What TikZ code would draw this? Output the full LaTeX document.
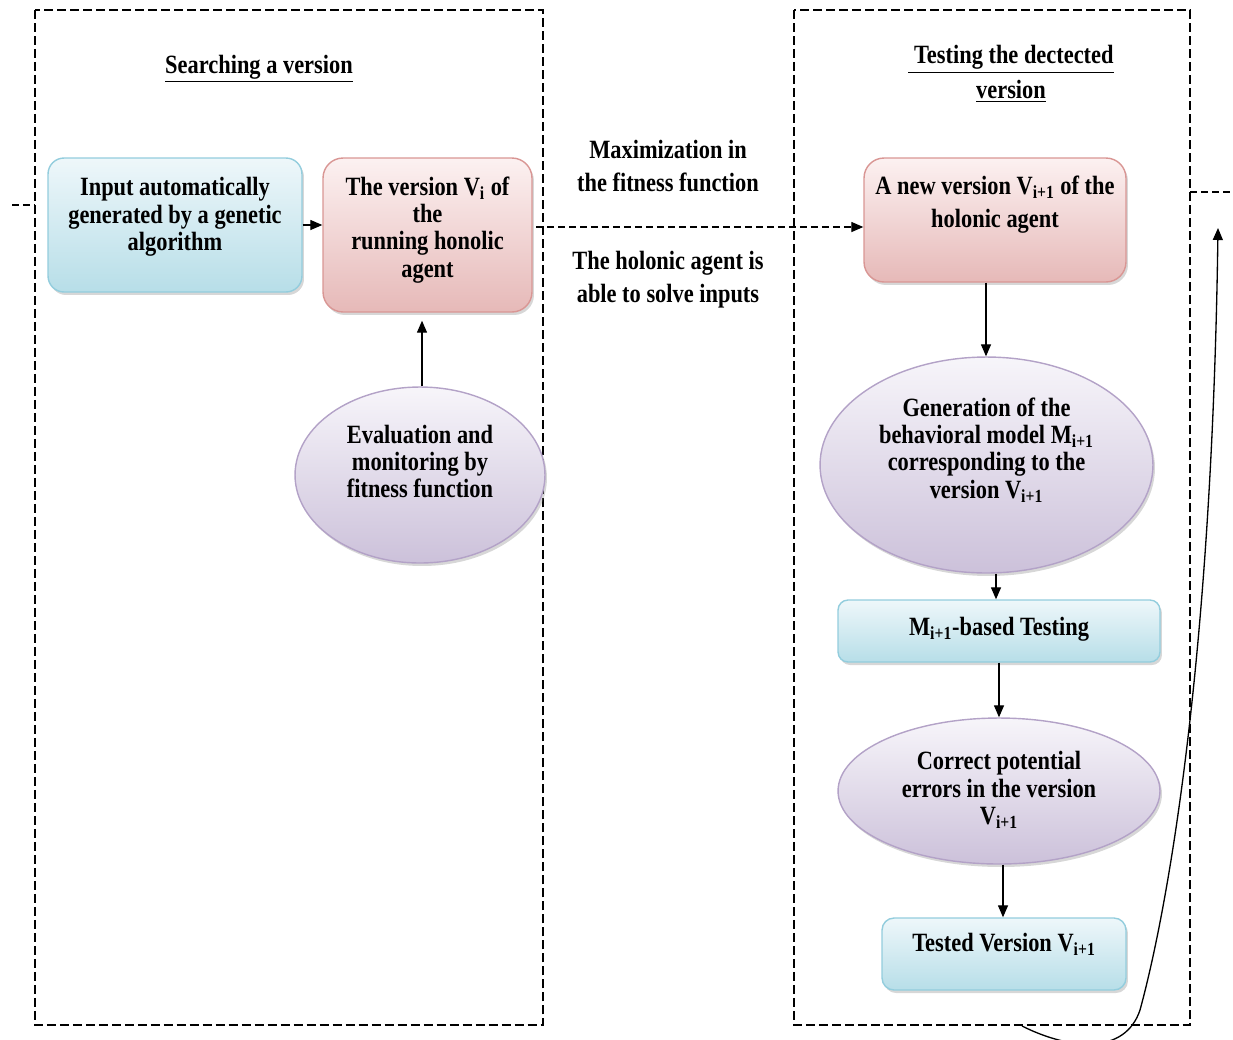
\documentclass[tikz,border=0pt]{standalone}
\usepackage{fontspec}
\setmainfont{Liberation Serif}[FakeStretch=0.85]
\usetikzlibrary{arrows.meta,shapes.geometric,shadows}
\definecolor{bluetop}{HTML}{EEF7FA}
\definecolor{bluebot}{HTML}{B7DEE8}
\definecolor{blueline}{HTML}{93CDDD}
\definecolor{pinktop}{HTML}{FCF1F1}
\definecolor{pinkbot}{HTML}{E6B9B8}
\definecolor{pinkline}{HTML}{D99694}
\definecolor{lavtop}{HTML}{F7F5FA}
\definecolor{lavbot}{HTML}{CCC1DA}
\definecolor{lavline}{HTML}{B3A2C7}
\tikzset{
  txt/.style={font=\fontsize{15}{15.5}\selectfont\bfseries, align=center, inner sep=0pt},
  shd/.style={drop shadow={shadow xshift=0.04cm, shadow yshift=-0.06cm, opacity=0.35, fill=black!45}},
  bluebox/.style={txt, rectangle, rounded corners=0.32cm, top color=bluetop, bottom color=bluebot, draw=blueline, line width=0.8pt, shd},
  pinkbox/.style={txt, rectangle, rounded corners=0.4cm, top color=pinktop, bottom color=pinkbot, draw=pinkline, line width=0.8pt, shd},
  lavell/.style={txt, ellipse, top color=lavtop, bottom color=lavbot, draw=lavline, line width=0.8pt, shd},
  frame/.style={draw, line width=0.75pt, dash pattern=on 0.18cm off 0.08cm},
  dline/.style={line width=0.75pt, dash pattern=on 0.14cm off 0.08cm},
  arr/.style={-{Triangle[length=0.24cm,width=0.2cm]}, line width=0.75pt},
  lbl/.style={txt},
}
\begin{document}
\begin{tikzpicture}[x=0.02cm, y=-0.02cm]
\useasboundingbox (0,0) rectangle (1233,1039);
% frames
\draw[frame] (35,10) rectangle (543,1025);
\draw[frame] (794,10) rectangle (1190,1025);
\coordinate (lstubA) at (12,205);
\coordinate (lstubB) at (35,205);
\coordinate (rstubA) at (1190,192);
\coordinate (rstubB) at (1233,192);
\draw[dline] (lstubA) -- (lstubB);
\draw[dline] (rstubA) -- (rstubB);
% titles
\node[txt] (t1) at (259,69) {\underline{Searching a version}};
\node[txt] (t2) at (1011,74) {\underline{\ Testing the dectected}\\[0.12cm]\underline{version}};
% left column
\node[bluebox, minimum width=5.08cm, minimum height=2.68cm] (b1) at (175,225)
  {Input automatically\\generated by a genetic\\algorithm\\[-0.1cm]};
\node[pinkbox, minimum width=4.18cm, minimum height=3.08cm] (b2) at (427.5,235)
  {The version V\textsubscript{i} of\\the\\running honolic\\agent\\[-0.22cm]};
\node[lavell, minimum width=5.0cm, minimum height=3.52cm] (e1) at (420,475)
  {Evaluation and\\monitoring by\\fitness function\\};
% middle labels
\node[lbl] (m1) at (668,166) {Maximization in\\[0.12cm]the fitness function};
\node[lbl] (m2) at (668,280) {The holonic agent is\\[0.12cm]able to solve inputs};
% right column
\node[pinkbox, minimum width=5.24cm, minimum height=2.48cm] (b3) at (995,220)
  {A new version V\textsubscript{i+1} of the\\[0.12cm]holonic agent\\[0.2cm]};
\node[lavell, minimum width=6.66cm, minimum height=4.32cm] (e2) at (986.5,465)
  {Generation of the\\behavioral model M\textsubscript{i+1}\\corresponding to the\\version V\textsubscript{i+1}\\[0.14cm]};
\node[bluebox, rounded corners=0.2cm, minimum width=6.44cm, minimum height=1.24cm] (b4) at (999,631)
  {M\textsubscript{i+1}-based Testing\\[-0.34cm]};
\node[lavell, minimum width=6.44cm, minimum height=2.92cm] (e3) at (999,791)
  {Correct potential\\errors in the version\\V\textsubscript{i+1}\\[-0.42cm]};
\node[bluebox, rounded corners=0.24cm, minimum width=4.88cm, minimum height=1.44cm] (b5) at (1004,954)
  {Tested Version V\textsubscript{i+1}\\[-0.06cm]};
% connectors
\draw[arr] (b1.east) -- (b1.east -| b2.west);
\draw[arr] (e1.north -| 422,0) -- ([yshift=-0.16cm]b2.south -| 422,0);
\draw[dline, -{Triangle[length=0.24cm,width=0.2cm]}] ([yshift=-0.14cm]b3.west -| 536,0) -- ([yshift=-0.14cm]b3.west);
\draw[arr] (b3.south -| 986,0) -- (e2.north -| 986,0);
\draw[arr] (e2.south -| 996,0) -- (b4.north -| 996,0);
\draw[arr] (b4.south) -- (e3.north);
\draw[arr] (e3.south -| 1003,0) -- (b5.north -| 1003,0);
\coordinate (cs) at (1022,1026);
\coordinate (cm) at (1140,1010);
\coordinate (ce) at (1218,228);
\draw[arr] (cs) .. controls (1070,1050) and (1125,1055) .. (cm)
  .. controls (1170,900) and (1212,650) .. (ce);
\end{tikzpicture}
\end{document}
